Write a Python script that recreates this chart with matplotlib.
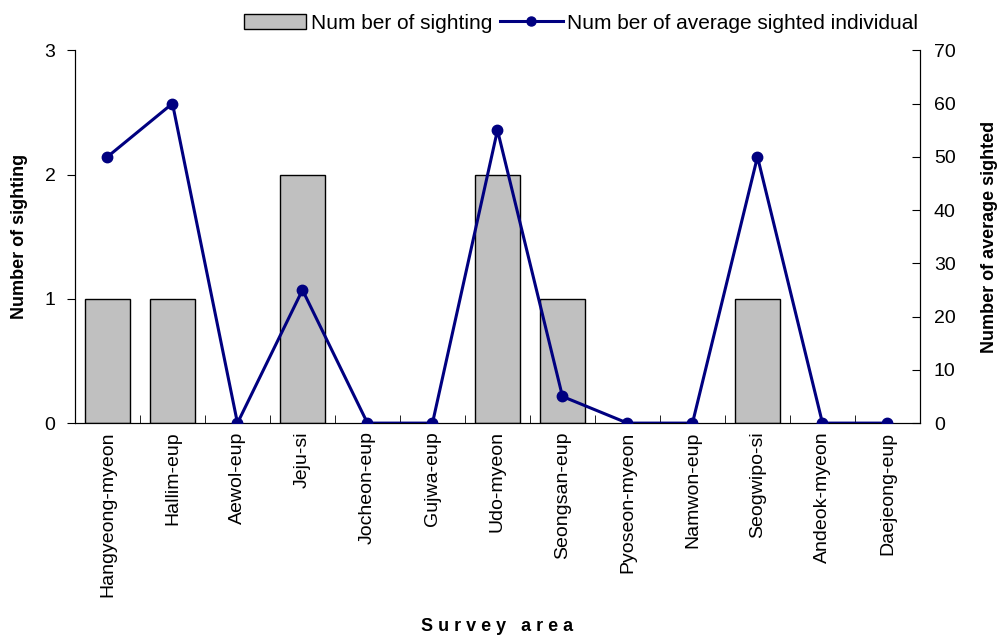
import matplotlib
matplotlib.use("Agg")
import matplotlib.pyplot as plt
import numpy as np
from matplotlib.lines import Line2D
from matplotlib.patches import Patch

plt.rcParams["font.family"] = ["Liberation Sans", "DejaVu Sans"]

areas = ["Hangyeong-myeon", "Hallim-eup", "Aewol-eup", "Jeju-si", "Jocheon-eup",
         "Gujwa-eup", "Udo-myeon", "Seongsan-eup", "Pyoseon-myeon", "Namwon-eup",
         "Seogwipo-si", "Andeok-myeon", "Daejeong-eup"]
sightings = [1, 1, 0, 2, 0, 0, 2, 1, 0, 0, 1, 0, 0]
avg_individuals = [50, 60, 0, 25, 0, 0, 55, 5, 0, 0, 50, 0, 0]

NAVY = "#000080"
BAR = "#c0c0c0"

fig = plt.figure(figsize=(10.05, 6.44), dpi=100)
ax = fig.add_axes([0.0746, 0.343, 0.8408, 0.579])
x = np.arange(len(areas))

# empty bars get no outline, like the original
ax.bar(x, sightings, width=0.69, color=BAR, edgecolor="black",
       linewidth=[1.0 if v else 0 for v in sightings], zorder=2)
ax.set_xlim(-0.5, len(areas) - 0.5)
ax.set_ylim(0, 3)
ax.set_yticks([0, 1, 2, 3])
ax.tick_params(axis="y", direction="out", length=6, labelsize=14, pad=8)
ax.set_xticks(x)
ax.set_xticklabels(areas, rotation=90, fontsize=14)
ax.tick_params(axis="x", length=0, pad=6)
ax.set_xticks(np.arange(-0.5, len(areas), 1.0), minor=True)
ax.tick_params(axis="x", which="minor", direction="in", length=6)
ax.spines["top"].set_visible(False)
ax.set_ylabel("Number of sighting", fontsize=13, fontweight="bold", labelpad=12)
ax.set_xlabel("S u r v e y   a r e a", fontsize=13, fontweight="bold", labelpad=15)

ax2 = ax.twinx()
ax2.plot(x, avg_individuals, color=NAVY, linewidth=2.2, marker="o", markersize=7.5, zorder=3)
ax2.set_ylim(0, 70)
ax2.set_yticks(range(0, 71, 10))
ax2.tick_params(axis="y", direction="in", length=6, labelsize=14, pad=10)
ax2.spines["top"].set_visible(False)
ax2.set_ylabel("Number of average sighted", fontsize=13, fontweight="bold", labelpad=18)

handles = [Patch(facecolor=BAR, edgecolor="black", linewidth=1.0),
           Line2D([0], [0], color=NAVY, linewidth=2.2, marker="o", markersize=6.5)]
fig.legend(handles, ["Num ber of sighting", "Num ber of average sighted individual"],
           loc="upper center", bbox_to_anchor=(0.578, 1.008), ncol=2, frameon=False,
           fontsize=15, handlelength=3.0, handletextpad=0.2, columnspacing=0.4)

fig.savefig("out.png", dpi=100, facecolor="white")
